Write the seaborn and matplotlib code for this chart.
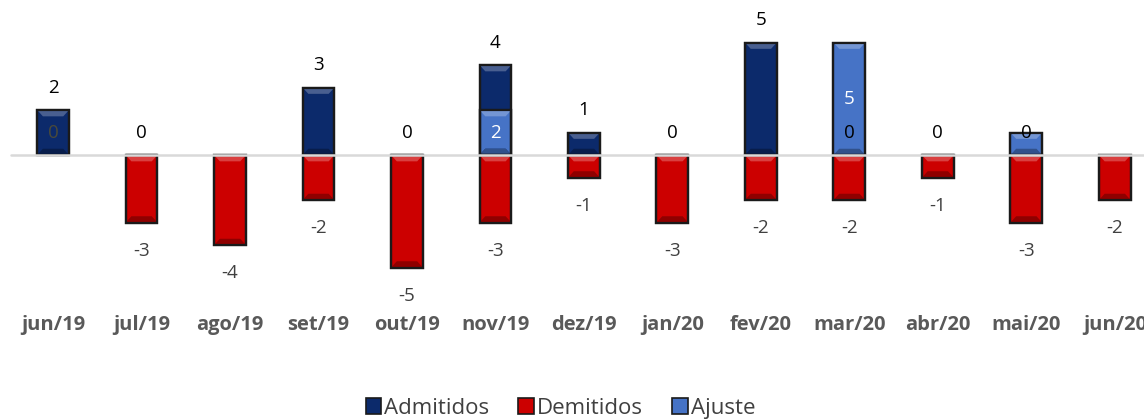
import numpy as np
import pandas as pd
import matplotlib
matplotlib.use("Agg")
import matplotlib.pyplot as plt
import matplotlib.patches as mpatches
import matplotlib.transforms as mtransforms
import matplotlib.colors as mcolors
import seaborn as sns

sns.set_theme(style="white")
plt.rcParams['font.family'] = ['Open Sans', 'DejaVu Sans']

# data
months = ["jun/19", "jul/19", "ago/19", "set/19", "out/19", "nov/19", "dez/19",
          "jan/20", "fev/20", "mar/20", "abr/20", "mai/20", "jun/20"]
admitidos = [2, 0, np.nan, 3, 0, 4, 1, 0, 5, 0, 0, 0, np.nan]
demitidos = [np.nan, -3, -4, -2, -5, -3, -1, -3, -2, -2, -1, -3, -2]
ajuste = [0, np.nan, np.nan, np.nan, np.nan, 2, np.nan, np.nan, np.nan, 5, np.nan, 1, np.nan]

df = pd.DataFrame({"mes": months, "Admitidos": admitidos,
                   "Demitidos": demitidos, "Ajuste": ajuste})

c_adm = "#0c2a6b"
c_dem = "#cc0000"
c_aju = "#4673c6"
edge = "#1a1a1a"

fig = plt.figure(figsize=(11.44, 4.19), dpi=100)
ax = fig.add_axes([0, 0, 1, 1])

for col, c in [("Admitidos", c_adm), ("Demitidos", c_dem), ("Ajuste", c_aju)]:
    sns.barplot(data=df, x="mes", y=col, order=months, color=c, width=0.36,
                edgecolor=edge, linewidth=1.6, saturation=1, ax=ax, errorbar=None)

ax.set_xlim(-0.6, 12.33)
ax.set_ylim(-11.73, 6.89)
ax.axis("off")

# simple bevel look on each bar, built from the bar geometry
dx = 0.065
dy = 0.28
for p in list(ax.patches):
    x0, y0 = p.get_x(), p.get_y()
    w, h = p.get_width(), p.get_height()
    if h == 0 or np.isnan(h):
        continue
    ylo, yhi = min(y0, y0 + h), max(y0, y0 + h)
    e = min(dy, (yhi - ylo) / 2)
    base = np.array(mcolors.to_rgb(p.get_facecolor()))
    light = base + (1 - base) * 0.25
    dark = base * 0.7
    top = [(x0, yhi), (x0 + w, yhi), (x0 + w - dx, yhi - e), (x0 + dx, yhi - e)]
    bot = [(x0, ylo), (x0 + w, ylo), (x0 + w - dx, ylo + e), (x0 + dx, ylo + e)]
    ax.add_patch(mpatches.Polygon(top, closed=True, facecolor=light, lw=0,
                                  zorder=p.get_zorder() + 0.01))
    ax.add_patch(mpatches.Polygon(bot, closed=True, facecolor=dark, lw=0,
                                  zorder=p.get_zorder() + 0.01))
    ax.add_patch(mpatches.Rectangle((x0, ylo), w, yhi - ylo, fill=False,
                                    edgecolor=edge, lw=1.6, zorder=p.get_zorder() + 0.02))

ax.axhline(0, xmin=0.01, xmax=1, color="#d9d9d9", lw=1.8, zorder=5)

# data labels
fs = 13.5
for i, m in enumerate(months):
    a, d, j = admitidos[i], demitidos[i], ajuste[i]
    if not np.isnan(a):
        ax.text(i, a + 1.0, f"{a:g}", ha="center", va="center", fontsize=fs,
                color="black", zorder=6)
    if not np.isnan(d):
        ax.text(i, d - 1.25, f"{d:g}", ha="center", va="center", fontsize=fs,
                color="#404040", zorder=6)
    if not np.isnan(j):
        if j == 0:
            ax.text(i, 1.0, "0", ha="center", va="center", fontsize=fs,
                    color="#4a4a3a", zorder=6)
        elif j > 1:
            ax.text(i, j / 2, f"{j:g}", ha="center", va="center", fontsize=fs,
                    color="white", zorder=6)

# category labels
trans = mtransforms.blended_transform_factory(ax.transData, ax.transAxes)
for i, m in enumerate(months):
    ax.text(i, 1 - 325 / 419, m, transform=trans, ha="center", va="center",
            fontsize=14.5, fontweight="bold", color="#595959")

handles = [mpatches.Patch(facecolor=c, edgecolor=edge, linewidth=1.2, label=l)
           for l, c in [("Admitidos", c_adm), ("Demitidos", c_dem), ("Ajuste", c_aju)]]
fig.legend(handles=handles, loc="center", bbox_to_anchor=(0.49, 1 - 408 / 419),
           ncol=3, frameon=False, fontsize=16, handlelength=0.7, handleheight=0.7,
           handletextpad=0.15, columnspacing=1.3, labelcolor="#404040")

fig.savefig("out.png", dpi=100)
